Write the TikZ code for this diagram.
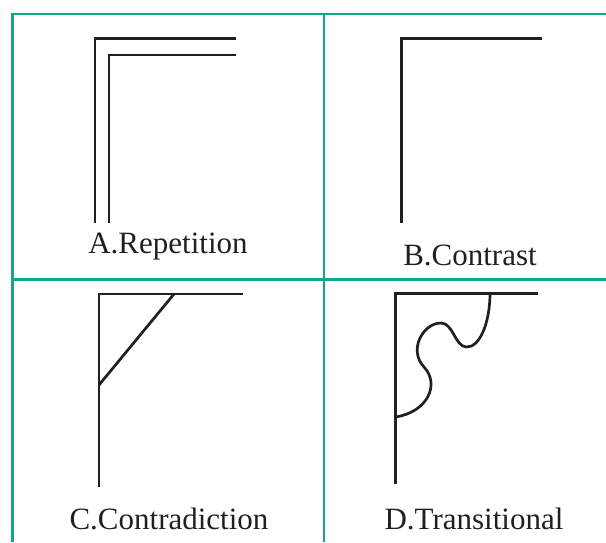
\documentclass[tikz,border=0pt]{standalone}
\usepackage{fontspec}
\setmainfont{Liberation Serif}
\usepackage{tikz}
\usetikzlibrary{calc}
\definecolor{gridline}{HTML}{12A68C}
\definecolor{ink}{HTML}{231F20}

\tikzset{
  cell/.style={gridline,line width=2.9pt},
  stroke/.style={ink,line width=2.7pt},
  caption/.style={anchor=base,inner sep=0pt,text=ink,font=\fontsize{31}{37}\selectfont}
}

\begin{document}
\begin{tikzpicture}[x=1pt,y=-1pt]
  \useasboundingbox (0,0) rectangle (606,542);

  % Grid
  \draw[cell] (12.5,542) -- (12.5,14) -- (606,14);
  \draw[cell] (324,14) -- (324,542);
  \draw[cell] (12.5,279.5) -- (606,279.5);

  % A: repetition
  \draw[stroke] (95,223) -- (95,38.5) -- (236,38.5);
  \draw[stroke] (109,223) -- (109,55) -- (236,55);
  \node[caption] (capA) at (168,253) {A.Repetition};

  % B: contrast
  \draw[stroke] (401.5,223) -- (401.5,38.5) -- (542,38.5);
  \node[caption] (capB) at (470,265) {B.Contrast};

  % C: contradiction
  \draw[stroke] (99,487) -- (99,294) -- (243,294);
  \draw[stroke] (174,294) -- (99,385);
  \node[caption] (capC) at (169,529) {C.Contradiction};

  % D: transitional
  \draw[stroke] (395.5,484) -- (395.5,293.5) -- (538,293.5);
  \draw[stroke] (490,293.5) .. controls (490,322) and (480,348) .. (466,347)
    .. controls (455,346) and (453,323) .. (441,323)
    .. controls (423,323) and (408,350) .. (424,367)
    .. controls (440,384) and (428,412) .. (395.5,417);
  \node[caption] (capD) at (474,529) {D.Transitional};
\end{tikzpicture}
\end{document}
